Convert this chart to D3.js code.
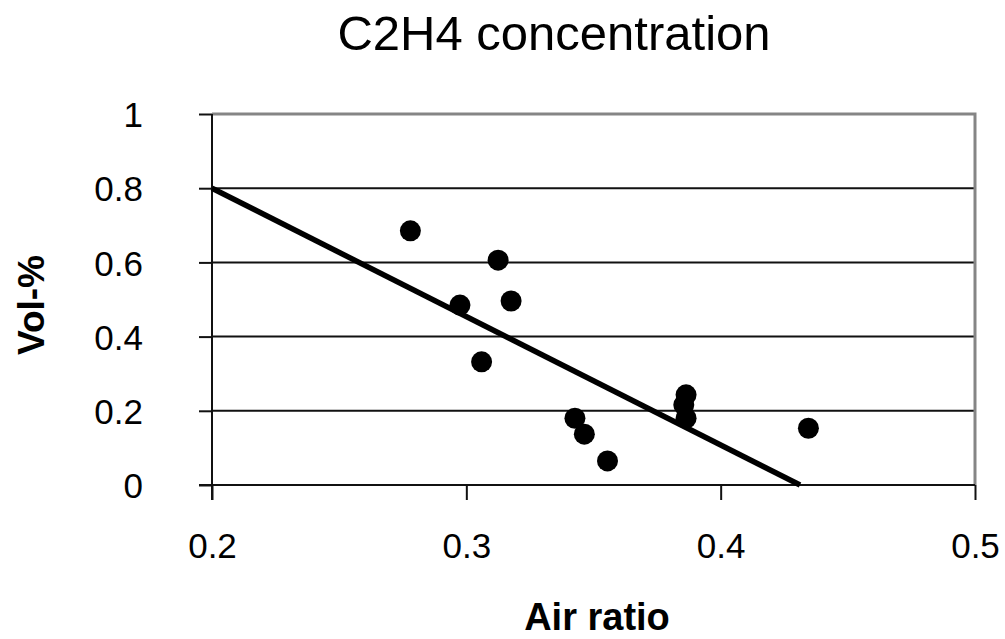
<!DOCTYPE html>
<html>
<head>
<meta charset="utf-8">
<script src="https://cdn.jsdelivr.net/npm/d3@7"></script>
<style>
  html, body { margin: 0; padding: 0; background: #fff; }
  svg { display: block; font-family: "Liberation Sans", Arial, sans-serif; }
</style>
</head>
<body>
<svg id="chart" width="1005" height="639"></svg>
<script>
const titleText = "C2H4 concentration";
const xTitle = "Air ratio";
const yTitle = "Vol-%";

const xTicks = [0.2, 0.3, 0.4, 0.5];
const yTicks = [0, 0.2, 0.4, 0.6, 0.8, 1];

const airRatio = [0.278, 0.2975, 0.3125, 0.3176, 0.306, 0.3427, 0.3464, 0.3555, 0.3864, 0.3855, 0.3864, 0.4345];
const volPct   = [0.685, 0.485, 0.606, 0.496, 0.332, 0.180, 0.137, 0.065, 0.243, 0.216, 0.180, 0.153];

const trendX = [0.2, 0.4312];
const trendY = [0.8, 0];

const svg = d3.select("#chart");
const plotL = 212, plotR = 975, plotT = 114, plotB = 485;

const x = d3.scaleLinear().domain([0.2, 0.5]).range([plotL, plotR]);
const y = d3.scaleLinear().domain([0, 1]).range([plotB, plotT]);

// gridlines
svg.append("g").selectAll("line")
  .data(yTicks.filter(d => d > 0 && d < 1))
  .join("line")
  .attr("x1", plotL).attr("x2", plotR)
  .attr("y1", d => y(d)).attr("y2", d => y(d))
  .attr("stroke", "#111").attr("stroke-width", 2);

// frame top & right (gray)
svg.append("path")
  .attr("d", `M${plotL},${y(1)}H${x(0.5)}V${y(0)}`)
  .attr("fill", "none").attr("stroke", "#858585").attr("stroke-width", 3);

// y axis
const yAxis = d3.axisLeft(y).tickValues(yTicks).tickSize(13).tickFormat(d3.format("~g"));
const gy = svg.append("g").attr("transform", `translate(${plotL},0)`).call(yAxis);
gy.select(".domain").attr("stroke", "#111").attr("stroke-width", 2)
  .attr("d", `M0,${y(1)}V${y(0) + 15}`);
gy.selectAll(".tick line").attr("stroke", "#111").attr("stroke-width", 2);
gy.selectAll(".tick text")
  .attr("x", -69).attr("dy", "0.36em")
  .attr("font-size", 35).attr("fill", "#000")
  .attr("font-family", "'Liberation Sans', Arial, sans-serif");

// x axis
const xAxis = d3.axisBottom(x).tickValues(xTicks).tickSize(15).tickFormat(d3.format("~g"));
const gx = svg.append("g").attr("transform", `translate(0,${plotB})`).call(xAxis);
gx.select(".domain").attr("stroke", "#111").attr("stroke-width", 2)
  .attr("d", `M${plotL - 13},0H${x(0.5)}`);
gx.selectAll(".tick line").attr("stroke", "#111").attr("stroke-width", 2);
gx.selectAll(".tick text")
  .attr("y", 73).attr("dy", 0)
  .attr("font-size", 35).attr("fill", "#000")
  .attr("font-family", "'Liberation Sans', Arial, sans-serif");

// trend line
const line = d3.line().x(d => x(d[0])).y(d => y(d[1]));
svg.append("path")
  .datum(d3.zip(trendX, trendY))
  .attr("d", line)
  .attr("fill", "none").attr("stroke", "#000").attr("stroke-width", 5.5);

// points
svg.append("g").selectAll("circle")
  .data(d3.zip(airRatio, volPct))
  .join("circle")
  .attr("cx", d => x(d[0])).attr("cy", d => y(d[1]))
  .attr("r", 10.5).attr("fill", "#000");

// title
svg.append("text")
  .attr("x", 554).attr("y", 50)
  .attr("text-anchor", "middle")
  .attr("font-size", 49).attr("fill", "#000")
  .text(titleText);

// axis titles
svg.append("text")
  .attr("x", 597).attr("y", 630)
  .attr("text-anchor", "middle")
  .attr("font-size", 38).attr("font-weight", "bold").attr("fill", "#000")
  .text(xTitle);

svg.append("text")
  .attr("transform", "translate(44,305) rotate(-90)")
  .attr("text-anchor", "middle")
  .attr("font-size", 37).attr("font-weight", "bold").attr("fill", "#000")
  .text(yTitle);
</script>
</body>
</html>
